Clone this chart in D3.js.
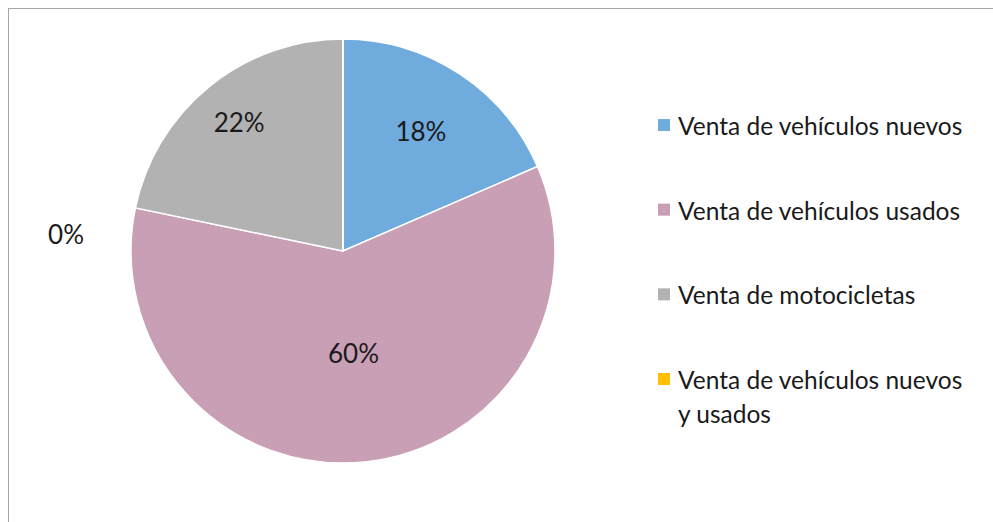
<!DOCTYPE html>
<html>
<head>
<meta charset="utf-8">
<script src="https://cdn.jsdelivr.net/npm/d3@7"></script>
<style>
  body { margin: 0; background: white; }
  svg { display: block; }
</style>
</head>
<body>
<div id="chart"></div>
<script>
const categories = [
    "Venta de vehículos nuevos",
    "Venta de vehículos usados",
    "Venta de motocicletas",
    "Venta de vehículos nuevos y usados"
];
const values = [17, 55, 20, 0];
const percentLabels = ["18%", "60%", "22%", "0%"];
const legendLines = [
    ["Venta de vehículos nuevos"],
    ["Venta de vehículos usados"],
    ["Venta de motocicletas"],
    ["Venta de vehículos nuevos", "y usados"]
];

function drawPie() {
    const width = 993, height = 522;
    const cx = 343, cy = 251, radius = 212;
    const font = "Lato, 'Open Sans', sans-serif";

    const svg = d3.select("#chart").append("svg")
        .attr("width", width)
        .attr("height", height);

    // chart frame, runs off right and bottom
    svg.append("rect")
        .attr("x", 8.5).attr("y", 8.5)
        .attr("width", width + 20).attr("height", height + 20)
        .attr("fill", "white")
        .attr("stroke", "#a6a6a6")
        .attr("stroke-width", 1);

    const color = d3.scaleOrdinal()
        .domain(categories)
        .range(["#6fabdc", "#c99fb6", "#b2b2b2", "#ffc000"]);

    const pie = d3.pie().sort(null).value(d => d.value);
    const arcs = pie(categories.map((c, i) => ({ name: c, value: values[i], label: percentLabels[i] })));

    const arc = d3.arc().innerRadius(0).outerRadius(radius);

    const g = svg.append("g").attr("transform", `translate(${cx},${cy})`);

    g.selectAll("path").data(arcs).join("path")
        .attr("d", arc)
        .attr("fill", d => color(d.data.name))
        .attr("stroke", "white")
        .attr("stroke-width", 1.5);

    // Excel "best fit" label distance, per slice
    const labelRadius = [0.67, 0.486, 0.776];
    g.selectAll("text.pct").data(arcs.filter(d => d.value > 0)).join("text")
        .attr("class", "pct")
        .attr("transform", (d, i) => {
            const r = radius * labelRadius[i];
            const [x, y] = d3.arc().innerRadius(r).outerRadius(r).centroid(d);
            return `translate(${x},${y})`;
        })
        .attr("text-anchor", "middle")
        .attr("dy", "0.35em")
        .attr("font-family", font)
        .attr("font-size", "26px")
        .attr("fill", "#1a1a1a")
        .text(d => d.data.label);

    // the zero slice label sits off to the left
    arcs.filter(d => d.value === 0).forEach(d => {
        g.append("text")
            .attr("x", -277).attr("y", -16)
            .attr("text-anchor", "middle")
            .attr("dy", "0.35em")
            .attr("font-family", font)
            .attr("font-size", "26px")
            .attr("fill", "#1a1a1a")
            .text(d.data.label);
    });

    const legend = svg.append("g").attr("transform", "translate(658,0)");
    const rowY = d3.scalePoint().domain(categories).range([135, 389]);

    const item = legend.selectAll("g").data(categories).join("g")
        .attr("transform", d => `translate(0,${rowY(d)})`);

    item.append("rect")
        .attr("x", 0).attr("y", -16)
        .attr("width", 12).attr("height", 12)
        .attr("fill", d => color(d));

    item.append("text")
        .attr("x", 20)
        .attr("font-family", font)
        .attr("font-size", "24.5px")
        .attr("fill", "#1a1a1a")
        .selectAll("tspan").data((d, i) => legendLines[i]).join("tspan")
        .attr("x", 20)
        .attr("dy", (d, j) => j === 0 ? 0 : 34)
        .text(d => d);
}

drawPie();
</script>
</body>
</html>
